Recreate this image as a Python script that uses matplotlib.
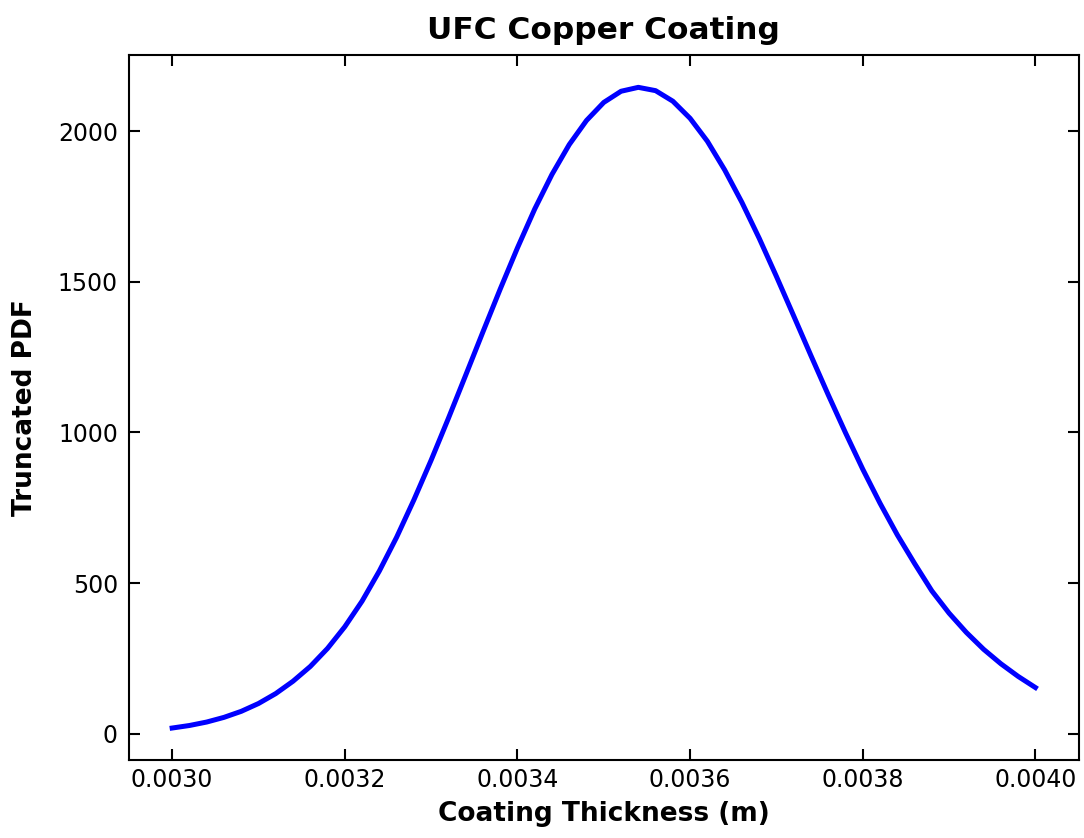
import matplotlib
matplotlib.use("Agg")
import matplotlib.pyplot as plt

# coating thickness (m), sampled every 0.02 mm from 3.00 mm to 4.00 mm
thickness = [0.00300, 0.00302, 0.00304, 0.00306, 0.00308, 0.00310, 0.00312,
             0.00314, 0.00316, 0.00318, 0.00320, 0.00322, 0.00324, 0.00326,
             0.00328, 0.00330, 0.00332, 0.00334, 0.00336, 0.00338, 0.00340,
             0.00342, 0.00344, 0.00346, 0.00348, 0.00350, 0.00352, 0.00354,
             0.00356, 0.00358, 0.00360, 0.00362, 0.00364, 0.00366, 0.00368,
             0.00370, 0.00372, 0.00374, 0.00376, 0.00378, 0.00380, 0.00382,
             0.00384, 0.00386, 0.00388, 0.00390, 0.00392, 0.00394, 0.00396,
             0.00398, 0.00400]
# truncated PDF at each thickness
pdf = [18.6, 27.0, 38.5, 54.0, 74.0, 100.0, 133.0,
       174.0, 223.0, 283.0, 355.0, 440.0, 540.0, 652.0,
       776.0, 908.0, 1047.0, 1190.0, 1334.0, 1476.0, 1613.0,
       1742.0, 1857.0, 1956.0, 2036.0, 2096.0, 2133.0, 2146.0,
       2135.0, 2100.0, 2043.0, 1967.0, 1872.0, 1764.0, 1645.0,
       1518.0, 1387.0, 1255.0, 1125.0, 999.0, 878.0, 765.0,
       660.0, 565.0, 474.0, 400.0, 336.0, 280.0, 232.0,
       190.0, 153.0]

fig = plt.figure(figsize=(10.84, 8.38), dpi=100)
ax = fig.add_axes([0.119, 0.093, 0.876, 0.841])

ax.plot(thickness, pdf, color="blue", linewidth=3.6)

ax.set_title("UFC Copper Coating", fontsize=22.5, fontweight="bold", pad=12)
ax.set_xlabel("Coating Thickness (m)", fontsize=19, fontweight="bold", labelpad=6)
ax.set_ylabel("Truncated PDF", fontsize=19, fontweight="bold", labelpad=14)

ax.set_xticks([0.0030, 0.0032, 0.0034, 0.0036, 0.0038, 0.0040])
ax.set_xticklabels(["0.0030", "0.0032", "0.0034", "0.0036", "0.0038", "0.0040"])
ax.set_yticks([0, 500, 1000, 1500, 2000])

ax.tick_params(direction="in", top=True, right=True, length=8, width=1.5,
               labelsize=17, pad=6)
ax.tick_params(axis="y", pad=8)
for spine in ax.spines.values():
    spine.set_linewidth(1.5)

fig.savefig("out.png", dpi=100)
